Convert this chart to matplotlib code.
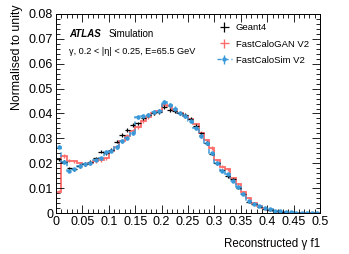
import numpy as np
import matplotlib.pyplot as plt
from matplotlib.ticker import MultipleLocator

plt.rcParams['font.family'] = ['Liberation Sans', 'DejaVu Sans']

# 数据: 50 个 bin, 宽度 0.01
edges = np.linspace(0, 0.5, 51)
geant4 = [0.0216, 0.0206, 0.0180, 0.0176, 0.0189, 0.0197, 0.0206, 0.0220, 0.0247, 0.0240,
          0.0255, 0.0287, 0.0314, 0.0334, 0.0354, 0.0360, 0.0380, 0.0393, 0.0400, 0.0407,
          0.0425, 0.0415, 0.0412, 0.0400, 0.0394, 0.0378, 0.0350, 0.0320, 0.0282, 0.0238,
          0.0200, 0.0172, 0.0148, 0.0135, 0.0100, 0.0075, 0.0046, 0.0036, 0.0026, 0.0018,
          0.0012, 0.0008, 0.0005, 0.0003, 0.0002, 0.0001, 0.0001, 0.0000, 0.0000, 0.0000]
calogan = [0.0086, 0.0229, 0.0210, 0.0208, 0.0200, 0.0195, 0.0200, 0.0208, 0.0212, 0.0220,
           0.0250, 0.0265, 0.0290, 0.0310, 0.0330, 0.0345, 0.0370, 0.0385, 0.0400, 0.0410,
           0.0435, 0.0430, 0.0415, 0.0402, 0.0390, 0.0376, 0.0356, 0.0322, 0.0292, 0.0262,
           0.0212, 0.0186, 0.0175, 0.0140, 0.0115, 0.0085, 0.0060, 0.0040, 0.0030, 0.0020,
           0.0013, 0.0008, 0.0004, 0.0003, 0.0002, 0.0001, 0.0001, 0.0000, 0.0000, 0.0000]
calosim = [0.0267, 0.0205, 0.0170, 0.0175, 0.0190, 0.0195, 0.0200, 0.0215, 0.0220, 0.0245,
           0.0250, 0.0265, 0.0290, 0.0300, 0.0320, 0.0385, 0.0390, 0.0395, 0.0405, 0.0410,
           0.0445, 0.0435, 0.0420, 0.0400, 0.0390, 0.0370, 0.0340, 0.0310, 0.0280, 0.0240,
           0.0200, 0.0170, 0.0155, 0.0130, 0.0105, 0.0078, 0.0050, 0.0038, 0.0030, 0.0022,
           0.0015, 0.0010, 0.0007, 0.0005, 0.0003, 0.0002, 0.0001, 0.0001, 0.0000, 0.0000]
xtick_labels = ['0', '0.05', '0.1', '0.15', '0.2', '0.25', '0.3', '0.35', '0.4', '0.45', '0.5']
ytick_labels = ['0', '0.01', '0.02', '0.03', '0.04', '0.05', '0.06', '0.07', '0.08']

centers = 0.5 * (edges[1:] + edges[:-1])
c_red = '#ff6b6b'
c_blue = '#3a9ad9'

fig = plt.figure(figsize=(3.49, 2.54), dpi=100)
ax = fig.add_axes([0.1605, 0.1614, 0.7565, 0.7835])

def err(v):
    return np.sqrt(np.array(v)) * 0.003 + 0.0002

# FastCaloGAN
ax.stairs(calogan, edges, color=c_red, lw=1.3)
ax.errorbar(centers, calogan, yerr=err(calogan), fmt='none', ecolor=c_red, elinewidth=1.0)

# FastCaloSim
ax.stairs(calosim, edges, color=c_blue, lw=1.1, ls=(0, (3, 2)))
ax.errorbar(centers, calosim, yerr=err(calosim), fmt='o', ms=2.2, color=c_blue,
            ecolor=c_blue, elinewidth=1.0)

# Geant4
ax.errorbar(centers, geant4, xerr=0.005, yerr=err(geant4), fmt='none', ecolor='black',
            elinewidth=0.9)

ax.set_xlim(0, 0.5)
ax.set_ylim(0, 0.08)
ax.set_xticks(np.arange(0, 0.501, 0.05))
ax.set_xticklabels(xtick_labels)
ax.set_yticks(np.arange(0, 0.0801, 0.01))
ax.set_yticklabels(ytick_labels)
ax.xaxis.set_minor_locator(MultipleLocator(0.01))
ax.yaxis.set_minor_locator(MultipleLocator(0.002))
ax.tick_params(which='both', direction='in', top=True, right=True, labelsize=9, pad=2)
ax.tick_params(which='major', length=6, width=0.6)
ax.tick_params(which='minor', length=3, width=0.6)
for s in ax.spines.values():
    s.set_linewidth(0.7)

ax.set_xlabel('Reconstructed γ f1', fontsize=8.3, loc='right', labelpad=7)
ax.set_ylabel('Normalised to unity', fontsize=8.8, loc='top')
ax.yaxis.set_label_coords(-0.125, 1.05)

ax.text(0.05, 0.885, 'ATLAS', transform=ax.transAxes, fontsize=7, fontweight='bold',
        style='italic')
ax.text(0.2, 0.885, 'Simulation', transform=ax.transAxes, fontsize=7)
ax.text(0.05, 0.8, 'γ, 0.2 < |η| < 0.25, E=65.5 GeV', transform=ax.transAxes, fontsize=6.6)

# 图例
h1 = ax.errorbar([], [], xerr=[], yerr=[], fmt='none', ecolor='black', elinewidth=0.9)
h2 = ax.errorbar([], [], xerr=[], yerr=[], fmt='none', ecolor=c_red, elinewidth=1.0)
h3 = ax.errorbar([], [], yerr=[], fmt='o', ms=2.2, color=c_blue, ls=(0, (3, 2)), lw=1.0)
ax.legend([h1, h2, h3], ['Geant4', 'FastCaloGAN V2', 'FastCaloSim V2'], loc='upper right',
          bbox_to_anchor=(0.99, 0.995), frameon=False, fontsize=6.8, handlelength=1.6,
          handletextpad=0.4, labelspacing=0.75)

fig.savefig('out.png', dpi=100)
